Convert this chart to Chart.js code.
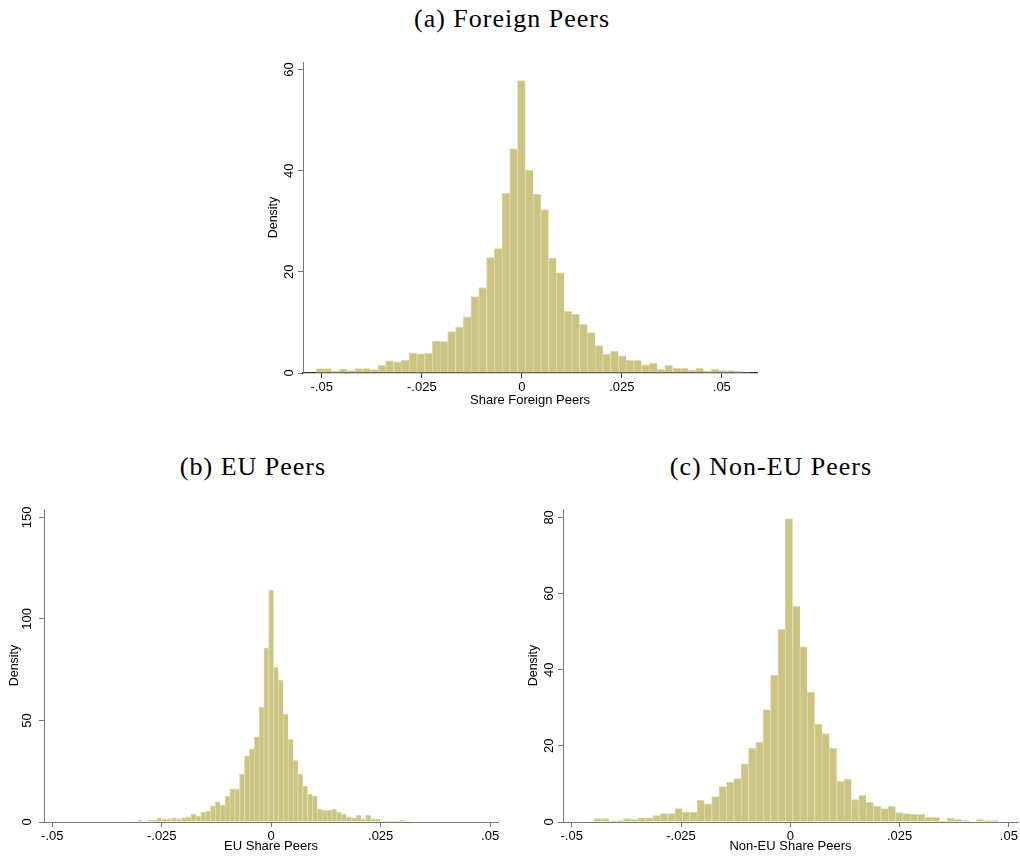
<!DOCTYPE html>
<html><head><meta charset="utf-8">
<script src="https://cdn.jsdelivr.net/npm/chart.js@4.4.0/dist/chart.umd.min.js"></script>
<style>
html,body{margin:0;padding:0;background:#fff;width:1020px;height:858px;overflow:hidden;position:relative}
.t{position:absolute;font-family:"Liberation Serif","Times New Roman",serif;font-size:26px;letter-spacing:1px;color:#000;white-space:nowrap;transform:translate(-50%,-50%);line-height:1}
canvas{position:absolute}
</style></head><body>
<div class="t" style="left:512px;top:19px">(a) Foreign Peers</div>
<div class="t" style="left:253px;top:467px">(b) EU Peers</div>
<div class="t" style="left:771px;top:467px">(c) Non-EU Peers</div>
<canvas id="ca"></canvas>
<canvas id="cb"></canvas>
<canvas id="cc"></canvas>
<script>
// ---- data ----
const xTickValues = [-0.05, -0.025, 0, 0.025, 0.05];
const xTickLabels = ['-.05', '-.025', '0', '.025', '.05'];

const foreignBinStart = -0.05143;
const foreignBinWidth = 0.001937;
const foreignDensity = [0.86,0.86,0.33,0.72,0.46,0.86,0.86,0.66,1.5,2.4,2.2,2.5,4.0,3.8,3.9,6.3,6.2,8.2,9.1,11.1,15.1,16.9,22.8,24.6,35.5,44.3,57.8,40.05,35.3,32.3,22.7,19.8,12.2,11.6,9.6,8.0,5.4,3.7,4.3,3.4,2.5,2.5,1.6,1.9,0.72,1.5,0.92,0.92,0.53,0.92,0.33,0.72,0.46,0.46,0.33,0.07];
const foreignYTicks = [0, 20, 40, 60];

const euBinStart = -0.03052;
const euBinWidth = 0.001109;
const euDensity = [1.0,0,1.0,1.0,2.0,1.5,1.5,2.0,1.5,2.0,2.5,3.9,2.8,4.9,5.4,7.9,9.9,8.4,12.8,16.3,16.3,23.7,32.5,36.0,41.9,56.7,85.8,114.2,76.2,70.0,53.1,40.7,30.4,23.7,17.7,13.8,12.8,6.4,5.7,5.7,6.4,4.9,3.9,2.5,2.0,3.4,1.6,3.4,1.5,1.5,0.5,0.5,0.5,0.5,1.0,0.5];
const euYTicks = [0, 50, 100, 150];

const nonEuBinStart = -0.04489;
const nonEuBinWidth = 0.001682;
const nonEuDensity = [0.9,0.9,0.3,0.35,0.9,0.7,1.1,1.1,1.7,2.2,2.2,3.5,2.7,2.6,5.7,4.8,6.7,9.3,10.5,11.4,15.3,19.4,20.9,29.5,38.6,50.6,79.6,56.7,46.0,34.1,25.7,23.2,19.4,10.7,11.2,5.9,7.0,5.2,4.1,3.5,4.1,2.5,2.2,2.0,2.0,1.2,1.2,0.26,1.0,0.7,0.35,0.1,0.7,0.35,0.35,0.1];
const nonEuYTicks = [0, 20, 40, 60, 80];

// ---- drawing ----
const BAR_FILL = 'rgb(203,196,131)';
const BAR_EDGE = 'rgb(222,217,168)';
const SANS = '"Liberation Sans", Arial, Helvetica, sans-serif';

function makePanel(id, g, binStart, binWidth, values, yTicks, xTitle, xAxisColor) {
  const cv = document.getElementById(id);
  const yAxisW = 41, padTop = 10, padRight = g.padRight;
  const cl = g.left - yAxisW, ct = g.top - padTop;
  const cw = Math.round(g.right + padRight - cl), ch = Math.round(g.bottom + g.xAxisH - ct);
  cv.width = cw; cv.height = ch;
  cv.style.left = cl + 'px'; cv.style.top = ct + 'px';
  cv.style.width = cw + 'px'; cv.style.height = ch + 'px';
  const pts = values.map((v, i) => ({x: binStart + (i + 0.5) * binWidth, y: v}));
  new Chart(cv, {
    type: 'bar',
    data: {datasets: [{
      data: pts,
      backgroundColor: BAR_FILL,
      borderColor: BAR_EDGE,
      borderWidth: {top: 1, left: 1, right: 0, bottom: 0},
      barPercentage: 1, categoryPercentage: 1, grouped: false
    }]},
    options: {
      responsive: false, animation: false, devicePixelRatio: 1,
      layout: {padding: {left: 0, top: padTop, right: padRight, bottom: 0}},
      plugins: {legend: {display: false}, tooltip: {enabled: false}, title: {display: false}},
      scales: {
        x: {
          type: 'linear', min: g.xmin, max: g.xmax, offset: false,
          grid: {display: true, offset: false, drawOnChartArea: false, drawTicks: true, tickLength: 5, color: xAxisColor},
          border: {display: true, color: xAxisColor, width: g.xAxisLW},
          afterBuildTicks: s => { s.ticks = xTickValues.map(v => ({value: v})); },
          afterFit: s => { s.height = g.xAxisH; s.paddingLeft = 0; s.paddingRight = 0; },
          ticks: {color: '#000', font: {family: SANS, size: 13}, padding: 2, maxRotation: 0, minRotation: 0,
                  autoSkip: false, callback: (v, i) => xTickLabels[i]},
          title: {display: true, text: xTitle, color: '#000', font: {family: SANS, size: 13}, padding: {top: 0, bottom: 4}}
        },
        y: {
          type: 'linear', min: 0, max: g.ymax,
          grid: {display: true, drawOnChartArea: false, drawTicks: true, tickLength: 5, color: '#777'},
          border: {display: true, color: '#777', width: 1},
          afterBuildTicks: s => { s.ticks = yTicks.map(v => ({value: v})); },
          afterFit: s => { s.width = yAxisW; s.paddingTop = 0; s.paddingBottom = 0; },
          ticks: {color: '#000', font: {family: SANS, size: 13}, padding: 1, minRotation: 90, maxRotation: 90,
                  crossAlign: 'center', autoSkip: false, callback: v => String(v)},
          title: {display: true, text: 'Density', color: '#000', font: {family: SANS, size: 12.5}, padding: {top: 4, bottom: 0}}
        }
      }
    }
  });
}

makePanel('ca', {left: 303, right: 757, top: 61.5, bottom: 372.7, xmin: -0.0547, xmax: 0.0588, ymax: 61.48, xAxisH: 39, padRight: 10, xAxisLW: 1.3},
  foreignBinStart, foreignBinWidth, foreignDensity, foreignYTicks, 'Share Foreign Peers', '#333');
makePanel('cb', {left: 44.3, right: 498.7, top: 509, bottom: 821.7, xmin: -0.0519, xmax: 0.0518, ymax: 154.1, xAxisH: 36, padRight: 10, xAxisLW: 1},
  euBinStart, euBinWidth, euDensity, euYTicks, 'EU Share Peers', '#777');
makePanel('cc', {left: 562.7, right: 1017.7, top: 509, bottom: 821.7, xmin: -0.052, xmax: 0.0521, ymax: 82.2, xAxisH: 36, padRight: 2, xAxisLW: 1},
  nonEuBinStart, nonEuBinWidth, nonEuDensity, nonEuYTicks, 'Non-EU Share Peers', '#777');
</script>
</body></html>
